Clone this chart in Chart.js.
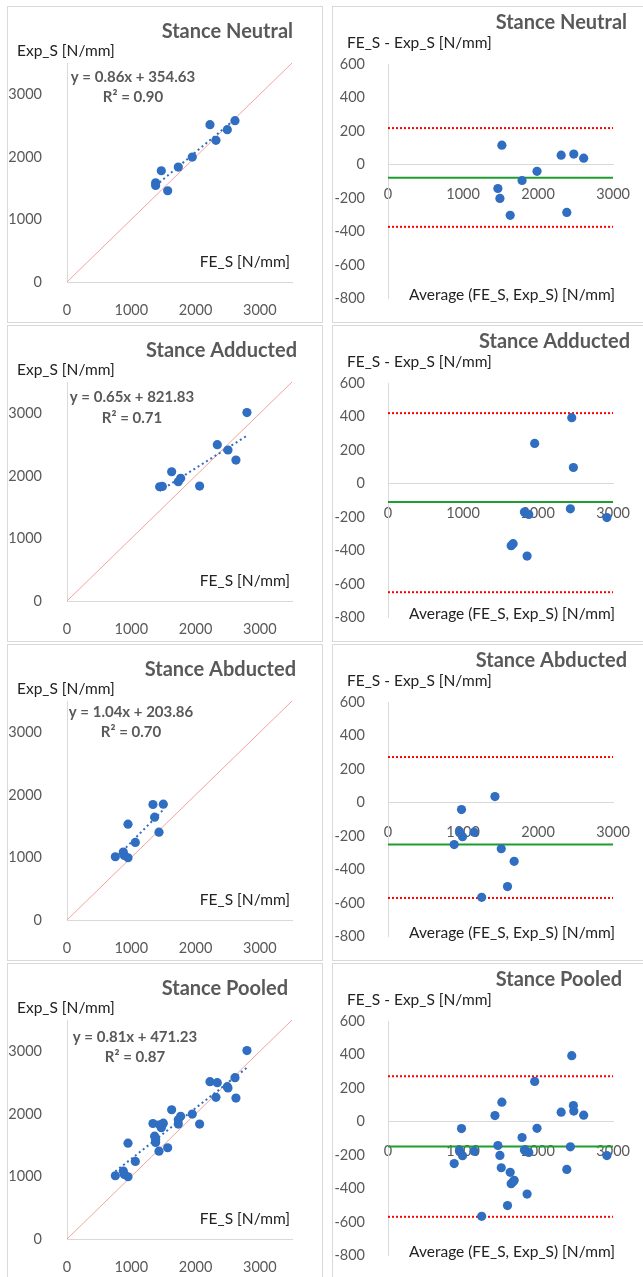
<!DOCTYPE html>
<html>
<head>
<meta charset="utf-8">
<script src="https://cdn.jsdelivr.net/npm/chart.js@4"></script>
<style>
  body { margin: 0; background: #fff; width: 643px; height: 1277px; position: relative; overflow: hidden; font-family: Lato, sans-serif; }
  .panel { position: absolute; border: 1px solid #d9d9d9; box-sizing: border-box; background: #fff; }
  .panel canvas { display: block; }
</style>
</head>
<body>
<script>
// stance groups
var stances = ['Stance Neutral', 'Stance Adducted', 'Stance Abducted', 'Stance Pooled'];

// scatter FE_S vs Exp_S [N/mm]
var neutralFE  = [1379, 1379, 1467, 1566, 1731, 1949, 2224, 2317, 2494, 2613];
var neutralExp = [1586, 1543, 1778, 1458, 1837, 1997, 2515, 2264, 2435, 2579];
var adductedFE  = [1441, 1483, 1628, 1731, 1768, 2063, 2338, 2504, 2628, 2799];
var adductedExp = [1826, 1831, 2066, 1906, 1960, 1837, 2499, 2413, 2253, 3011];
var abductedFE  = [752, 876, 892, 949, 949, 1063, 1337, 1363, 1431, 1498];
var abductedExp = [1011, 1085, 1032, 995, 1532, 1239, 1846, 1644, 1404, 1851];

// Bland-Altman: average vs difference
var neutralAvg  = [1517, 1464, 1491, 1628, 1786, 1985, 2307, 2475, 2607, 2382];
var neutralDiff = [115, -144, -203, -304, -96, -41, 55, 62, 37, -287];
var adductedAvg  = [2448, 1954, 2470, 1817, 1875, 2430, 2916, 1641, 1667, 1853];
var adductedDiff = [393, 239, 95, -171, -185, -152, -204, -372, -360, -434];
var abductedAvg  = [1425, 979, 953, 993, 1147, 882, 1509, 1681, 1592, 1248];
var abductedDiff = [35, -43, -174, -205, -178, -252, -277, -352, -503, -567];

// pooled = all three stances together
var pooledFE = neutralFE.concat(adductedFE, abductedFE);
var pooledExp = neutralExp.concat(adductedExp, abductedExp);
var pooledAvg = neutralAvg.concat(adductedAvg, abductedAvg);
var pooledDiff = neutralDiff.concat(adductedDiff, abductedDiff);

// linear trend (from the chart labels)
var trendSlope = [0.86, 0.65, 1.04, 0.81];
var trendIntercept = [354.63, 821.83, 203.86, 471.23];
var rSquared = ['0.90', '0.71', '0.70', '0.87'];

// bias and limits of agreement
var baMean = [-80, -111, -252, -150];
var baUpper = [217, 420, 271, 270];
var baLower = [-373, -650, -571, -570];

// axis ticks
var scatterTicks = [0, 1000, 2000, 3000];
var baXTicks = [0, 1000, 2000, 3000];
var baYTicks = [-800, -600, -400, -200, 0, 200, 400, 600];

var feSets = [neutralFE, adductedFE, abductedFE, pooledFE];
var expSets = [neutralExp, adductedExp, abductedExp, pooledExp];
var avgSets = [neutralAvg, adductedAvg, abductedAvg, pooledAvg];
var diffSets = [neutralDiff, adductedDiff, abductedDiff, pooledDiff];

// layout (not data)
var rowTop = [7, 326, 645, 964];
var leftTitleRight = [285, 289, 288, 280];
var rightTitleRight = [294, 297, 294, 289];
var eqPos = [[125, 70, 90], [124, 71, 92], [123, 67, 87], [127, 73, 93]];

var BLUE = '#2F6EC1';
var GREY = '#595959';
var FONT = 'Lato, sans-serif';

function pairs(xs, ys) {
  return xs.map(function (x, i) { return { x: x, y: ys[i] }; });
}

function textPlugin(items) {
  return {
    id: 'panelText',
    afterDraw: function (chart) {
      var ctx = chart.ctx;
      ctx.save();
      items.forEach(function (t) {
        ctx.font = t.font;
        ctx.fillStyle = t.color;
        ctx.textAlign = t.align;
        ctx.textBaseline = 'middle';
        ctx.fillText(t.text, t.x, t.y);
      });
      ctx.restore();
    }
  };
}

function makePanel(left, top, w, h, cw) {
  var div = document.createElement('div');
  div.className = 'panel';
  div.style.left = left + 'px';
  div.style.top = (top - 1) + 'px';
  div.style.width = w + 'px';
  div.style.height = h + 'px';
  var c = document.createElement('canvas');
  c.width = cw;
  c.height = h - 2;
  div.appendChild(c);
  document.body.appendChild(div);
  return c;
}

function axisCfg(min, max, values, pad) {
  return {
    type: 'linear', min: min, max: max,
    grid: { display: false },
    border: { display: true, color: '#d9d9d9' },
    ticks: {
      color: GREY,
      font: { family: FONT, size: 14.5 },
      padding: pad,
      autoSkip: false,
      maxRotation: 0,
      callback: function (v) { return String(v); }
    },
    afterBuildTicks: function (s) {
      s.ticks = values.map(function (v) { return { value: v }; });
    }
  };
}

stances.forEach(function (name, i) {
  var T = rowTop[i];
  var fe = feSets[i], ex = expSets[i];
  var lo = Math.min.apply(null, fe), hi = Math.max.apply(null, fe);
  var m = trendSlope[i], b = trendIntercept[i];

  // ---- left: FE_S vs Exp_S ----
  var sx = axisCfg(0, 3500, scatterTicks, 12);
  sx.afterFit = function (s) { s.height = 40; };
  var sy = axisCfg(0, 3500, scatterTicks, 17);
  sy.afterFit = function (s) { s.width = 59; };

  var c1 = makePanel(7, T, 316, 317, 314);
  new Chart(c1, {
    type: 'scatter',
    data: {
      datasets: [{
        data: pairs(fe, ex),
        backgroundColor: BLUE,
        borderWidth: 0,
        pointRadius: 4.6
      }, {
        data: [{ x: lo, y: m * lo + b }, { x: hi, y: m * hi + b }],
        showLine: true,
        borderColor: BLUE,
        borderWidth: 2,
        borderDash: [2, 3],
        pointRadius: 0
      }, {
        data: [{ x: 0, y: 0 }, { x: 3500, y: 3500 }],
        showLine: true,
        borderColor: '#F4A39C',
        borderWidth: 1,
        pointRadius: 0
      }]
    },
    options: {
      responsive: false,
      animation: false,
      events: [],
      layout: { padding: { left: 0, right: 30, top: 56, bottom: 0 } },
      plugins: { legend: { display: false }, tooltip: { enabled: false } },
      scales: { x: sx, y: sy }
    },
    plugins: [textPlugin([
      { text: name, x: leftTitleRight[i], y: 25, align: 'right', font: 'bold 20px ' + FONT, color: GREY },
      { text: 'Exp_S [N/mm]', x: 9, y: 44, align: 'left', font: '15.5px ' + FONT, color: '#222' },
      { text: 'FE_S [N/mm]', x: 282, y: 255, align: 'right', font: '15.5px ' + FONT, color: '#222' },
      { text: 'y = ' + m.toFixed(2) + 'x + ' + b.toFixed(2), x: eqPos[i][0], y: eqPos[i][1], align: 'center', font: 'bold 15px ' + FONT, color: GREY },
      { text: 'R\u00B2 = ' + rSquared[i], x: eqPos[i][0], y: eqPos[i][2], align: 'center', font: 'bold 15px ' + FONT, color: GREY }
    ])]
  });

  // ---- right: Bland-Altman ----
  var bx = axisCfg(0, 3000, baXTicks, 13);
  bx.position = { y: 0 };
  var by = axisCfg(-800, 600, baYTicks, 15);
  by.afterFit = function (s) { s.width = 55; };

  var c2 = makePanel(332, T, 320, 317, 310);
  new Chart(c2, {
    type: 'scatter',
    data: {
      datasets: [{
        data: pairs(avgSets[i], diffSets[i]),
        backgroundColor: BLUE,
        borderWidth: 0,
        pointRadius: 4.6
      }, {
        data: [{ x: 0, y: baMean[i] }, { x: 3000, y: baMean[i] }],
        showLine: true,
        borderColor: '#1E9E2E',
        borderWidth: 2,
        pointRadius: 0
      }, {
        data: [{ x: 0, y: baUpper[i] }, { x: 3000, y: baUpper[i] }],
        showLine: true,
        borderColor: '#FF0000',
        borderWidth: 2,
        borderDash: [2, 2],
        pointRadius: 0
      }, {
        data: [{ x: 0, y: baLower[i] }, { x: 3000, y: baLower[i] }],
        showLine: true,
        borderColor: '#FF0000',
        borderWidth: 2,
        borderDash: [2, 2],
        pointRadius: 0
      }]
    },
    options: {
      responsive: false,
      animation: false,
      events: [],
      layout: { padding: { left: 0, right: 27, top: 57, bottom: 18 } },
      plugins: { legend: { display: false }, tooltip: { enabled: false } },
      scales: { x: bx, y: by }
    },
    plugins: [textPlugin([
      { text: name, x: rightTitleRight[i], y: 16, align: 'right', font: 'bold 20px ' + FONT, color: GREY },
      { text: 'FE_S - Exp_S [N/mm]', x: 14, y: 36, align: 'left', font: '15.5px ' + FONT, color: '#222' },
      { text: 'Average (FE_S, Exp_S) [N/mm]', x: 282, y: 288, align: 'right', font: '15.5px ' + FONT, color: '#222' }
    ])]
  });
});
</script>
</body>
</html>
